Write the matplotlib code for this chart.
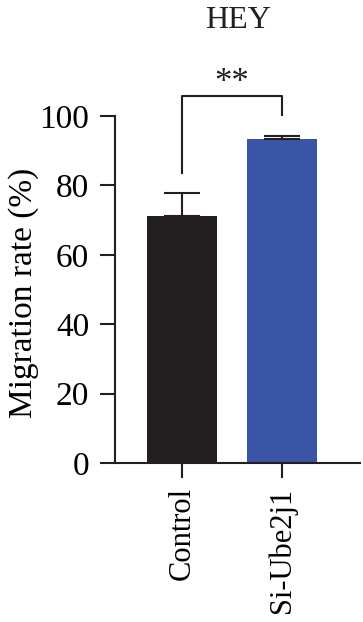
import matplotlib.pyplot as plt

# Data
groups = ['Control', 'Si-Ube2j1']
means = [71.3, 93.3]
errors = [6.4, 0.9]
bar_colors = ['#231f20', '#3a55a5']
title = 'HEY'
sig_label = '**'

plt.rcParams['font.family'] = ['Liberation Serif', 'DejaVu Serif']
fs = 24

fig = plt.figure(figsize=(3.63, 6.22), dpi=100)
ax = fig.add_axes([115 / 363, 1 - 463 / 622, 245 / 363, 347 / 622])

x = range(len(groups))
ax.bar(x, means, width=0.7, color=bar_colors, zorder=2)
# upper error bars only
ax.errorbar(x, means, yerr=[[0, 0], errors], fmt='none', ecolor='#231f20',
            elinewidth=1.5, capsize=13, capthick=1.5, zorder=3)

ax.set_xlim(-0.667, 1.78)
ax.set_ylim(0, 100)
ax.set_yticks([0, 20, 40, 60, 80, 100])
ax.set_xticks(list(x))
ax.set_xticklabels(groups, rotation=90, fontsize=22)
ax.tick_params(axis='y', labelsize=fs, length=10.5, width=1.5, pad=8, color='#231f20')
ax.tick_params(axis='x', length=10.5, width=1.5, pad=7, color='#231f20')

for side in ['top', 'right']:
    ax.spines[side].set_visible(False)
for side in ['left', 'bottom']:
    ax.spines[side].set_linewidth(1.5)
    ax.spines[side].set_color('#231f20')

ax.set_ylabel('Migration rate (%)', fontsize=fs)
ax.yaxis.set_label_coords(-0.31, 0.49)

# significance bracket
ax.plot([0, 0, 1, 1], [83.7, 105.8, 105.8, 100.3], color='#231f20', lw=1.5, clip_on=False)
ax.text(0.5, 109.5, sig_label, ha='center', va='center', fontsize=25,
        color='#231f20', clip_on=False)

fig.text(238 / 363, 1 - 20 / 622, title, ha='center', va='center', fontsize=23,
         color='#231f20')

fig.savefig('out.png', dpi=100)
